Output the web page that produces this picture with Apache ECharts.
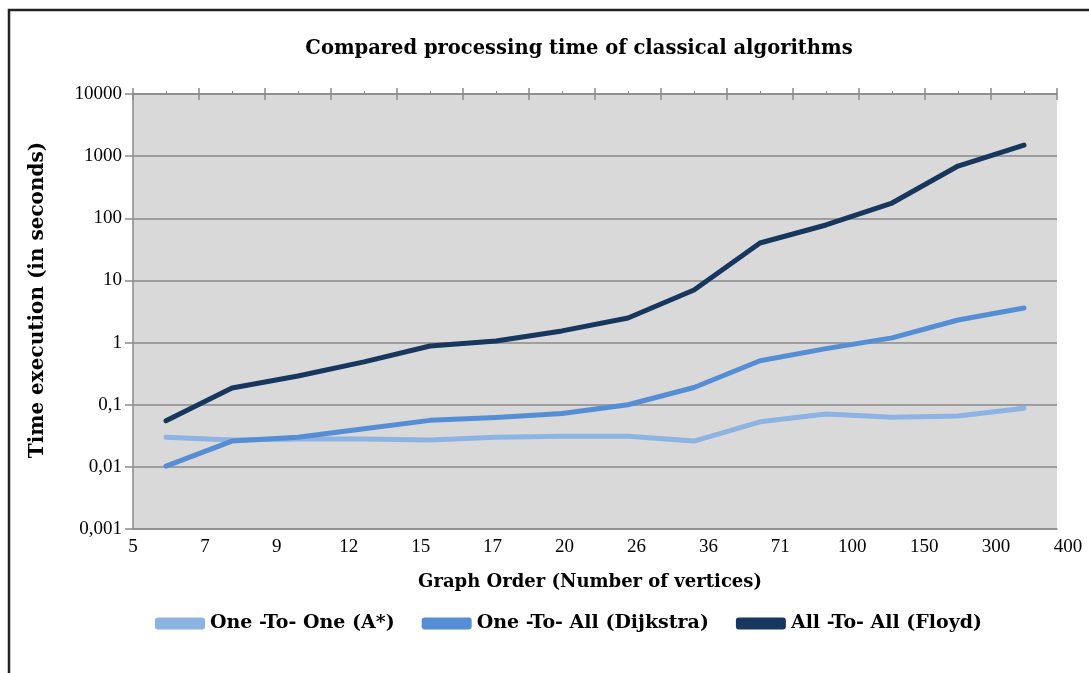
<!DOCTYPE html>
<html>
<head>
<meta charset="utf-8">
<script src="https://cdn.jsdelivr.net/npm/echarts@6/dist/echarts.min.js"></script>
<style>html,body{margin:0;padding:0;background:#fff;}#c{width:1089px;height:673px;}</style>
</head>
<body>
<div id="c"></div>
<script>
var categories = ['5','7','9','12','15','17','20','26','36','71','100','150','300','400'];
var xTickLabels = ['5','7','9','12','15','17','20','26','36','71','100','150','300','400'];
var yTickLabels = {'-3':'0,001','-2':'0,01','-1':'0,1','0':'1','1':'10','2':'100','3':'1000','4':'10000'};
var aStar = [0.030, 0.027, 0.028, 0.028, 0.027, 0.030, 0.031, 0.031, 0.026, 0.053, 0.071, 0.063, 0.066, 0.088];
var dijkstra = [0.0103, 0.026, 0.030, 0.041, 0.056, 0.062, 0.072, 0.10, 0.189, 0.51, 0.80, 1.19, 2.31, 3.6];
var floyd = [0.055, 0.186, 0.29, 0.49, 0.88, 1.06, 1.54, 2.49, 7.0, 40, 78, 176, 693, 1510];
var seriesNames = ['One -To- One (A*)', 'One -To- All (Dijkstra)', 'All -To- All (Floyd)'];
var colors = ['#8db3e2', '#558ed5', '#17375e'];

var FONT = '"Liberation Serif", "Times New Roman", serif';
var BFONT = '"DejaVu Serif", "Liberation Serif", serif';
var axisGray = '#8a8a8a';
var gridBox = {left: 133, right: 32, top: 94, bottom: 144};
function hiddenY(i) {
  return {type: 'value', gridIndex: i, show: false, min: 0, max: 1};
}
var chart = echarts.init(document.getElementById('c'));
chart.setOption({
  animation: false,
  backgroundColor: '#fff',
  title: {
    text: 'Compared processing time of classical algorithms',
    left: 574, top: 34, textAlign: 'center',
    textStyle: {fontFamily: BFONT, fontWeight: 'bold', fontSize: 19.5, color: '#000'}
  },
  legend: {
    top: 609, left: 150,
    itemWidth: 50, itemHeight: 12, itemGap: 27,
    icon: 'roundRect',
    data: seriesNames,
    textStyle: {fontFamily: BFONT, fontWeight: 'bold', fontSize: 19, color: '#000'}
  },
  grid: [
    Object.assign({show: true, backgroundColor: '#d9d9d9', borderWidth: 0}, gridBox),
    Object.assign({}, gridBox),
    Object.assign({}, gridBox),
    Object.assign({}, gridBox),
    {left: 133, right: 21, top: 94, bottom: 144}
  ],
  xAxis: [
    {type: 'category', gridIndex: 0, data: categories, boundaryGap: true, position: 'bottom',
     axisLine: {show: true, onZero: false, lineStyle: {color: axisGray, width: 1.5}},
     axisTick: {show: false}, axisLabel: {show: false}, splitLine: {show: false},
     name: 'Graph Order (Number of vertices)', nameLocation: 'middle', nameGap: 44,
     nameTextStyle: {fontFamily: BFONT, fontWeight: 'bold', fontSize: 18, color: '#000', padding: [0, 10, 0, 0]}},
    {type: 'category', gridIndex: 1, data: categories, boundaryGap: true, position: 'top',
     axisLine: {show: true, onZero: false, lineStyle: {color: axisGray, width: 1.5}},
     axisTick: {show: true, interval: 0, length: 6, lineStyle: {color: axisGray, width: 1.5}},
     axisLabel: {show: false}},
    {type: 'category', gridIndex: 2, data: categories, boundaryGap: true, position: 'top',
     axisLine: {show: false, onZero: false},
     axisTick: {show: true, inside: true, interval: 0, length: 6, lineStyle: {color: axisGray, width: 1.5}},
     axisLabel: {show: false}},
    {type: 'category', gridIndex: 3, data: categories, boundaryGap: true, position: 'top',
     axisLine: {show: false, onZero: false},
     axisTick: {show: true, alignWithLabel: true, interval: 0, length: 3, lineStyle: {color: axisGray, width: 1}},
     axisLabel: {show: false}},
    {type: 'category', gridIndex: 4, data: xTickLabels, boundaryGap: false, position: 'bottom',
     axisLine: {show: false, onZero: false}, axisTick: {show: false},
     axisLabel: {show: true, interval: 0, margin: 9, fontFamily: FONT, fontSize: 19, color: '#000'}}
  ],
  yAxis: [
    {type: 'log', logBase: 10, gridIndex: 0, min: 0.001, max: 10000,
     axisLine: {show: true, lineStyle: {color: axisGray, width: 1.5}},
     axisTick: {show: true, length: 8, lineStyle: {color: axisGray, width: 1.5}},
     splitLine: {show: true, lineStyle: {color: axisGray, width: 1.5}},
     axisLabel: {fontFamily: FONT, fontSize: 19, color: '#000', margin: 11,
       formatter: function (v) { var k = Math.round(Math.log10(v)); return yTickLabels[String(k)] || ''; }}},
    hiddenY(1), hiddenY(2), hiddenY(3), hiddenY(4)
  ],
  series: seriesNames.map(function (n, i) {
    return {
      name: n, type: 'line', xAxisIndex: 0, yAxisIndex: 0,
      data: [aStar, dijkstra, floyd][i],
      showSymbol: false, symbol: 'none',
      itemStyle: {color: colors[i]},
      lineStyle: {color: colors[i], width: 5, cap: 'round', join: 'round'},
      z: 3 + i
    };
  }),
  graphic: [
    {type: 'polyline', shape: {points: [[9, 673], [9, 10], [1089, 10]]},
     style: {stroke: '#222', lineWidth: 2.5, fill: null}, silent: true},
    {type: 'text', x: 38, y: 300, rotation: Math.PI / 2, silent: true,
     style: {text: 'Time execution (in seconds)', fontFamily: BFONT, fontWeight: 'bold', fontSize: 20,
       fill: '#000', align: 'center', verticalAlign: 'middle'}}
  ]
});
</script>
</body>
</html>
